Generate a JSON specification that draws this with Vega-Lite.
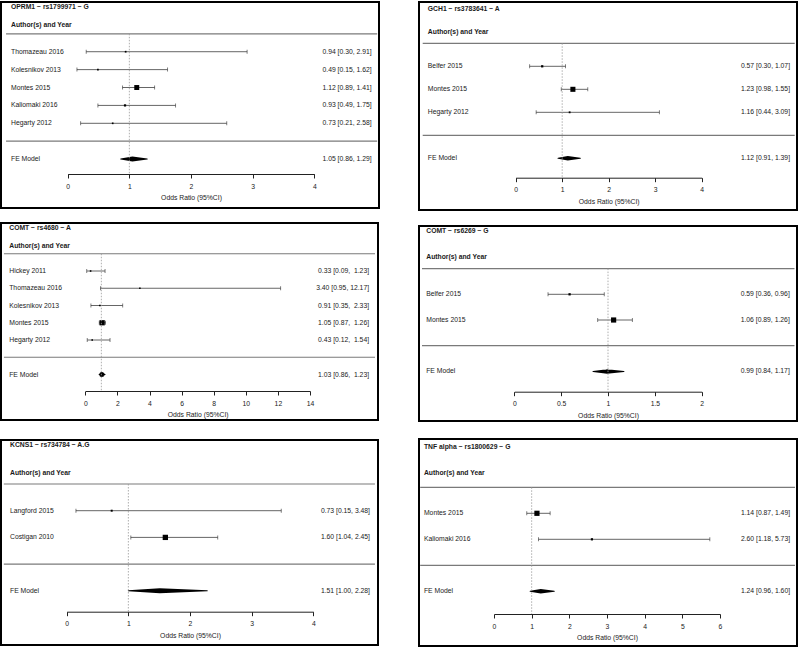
{
  "$schema": "https://vega.github.io/schema/vega-lite/v6.json",
  "background": "white",
  "padding": {"left": 0, "top": 1, "right": 0, "bottom": 0},
  "datasets": {
    "p1": [
      {"study": "Thomazeau 2016", "pos": 1, "kind": "study", "est": 0.94, "lo": 0.30, "hi": 2.91, "ci": "0.94 [0.30, 2.91]", "weight": 3.3},
      {"study": "Kolesnikov 2013", "pos": 2, "kind": "study", "est": 0.49, "lo": 0.15, "hi": 1.62, "ci": "0.49 [0.15, 1.62]", "weight": 3.0},
      {"study": "Montes 2015", "pos": 3, "kind": "study", "est": 1.12, "lo": 0.89, "hi": 1.41, "ci": "1.12 [0.89, 1.41]", "weight": 80.5},
      {"study": "Kaliomaki 2016", "pos": 4, "kind": "study", "est": 0.93, "lo": 0.49, "hi": 1.75, "ci": "0.93 [0.49, 1.75]", "weight": 10.5},
      {"study": "Hegarty 2012", "pos": 5, "kind": "study", "est": 0.73, "lo": 0.21, "hi": 2.58, "ci": "0.73 [0.21, 2.58]", "weight": 2.7},
      {"study": "FE Model", "pos": 7, "kind": "FE", "est": 1.05, "lo": 0.86, "hi": 1.29, "ci": "1.05 [0.86, 1.29]"}
    ],
    "p2": [
      {"study": "Belfer 2015", "pos": 1, "kind": "study", "est": 0.57, "lo": 0.30, "hi": 1.07, "ci": "0.57 [0.30, 1.07]", "weight": 11.0},
      {"study": "Montes 2015", "pos": 2, "kind": "study", "est": 1.23, "lo": 0.98, "hi": 1.55, "ci": "1.23 [0.98, 1.55]", "weight": 84.3},
      {"study": "Hegarty 2012", "pos": 3, "kind": "study", "est": 1.16, "lo": 0.44, "hi": 3.09, "ci": "1.16 [0.44, 3.09]", "weight": 4.7},
      {"study": "FE Model", "pos": 5, "kind": "FE", "est": 1.12, "lo": 0.91, "hi": 1.39, "ci": "1.12 [0.91, 1.39]"}
    ],
    "p3": [
      {"study": "Hickey 2011", "pos": 1, "kind": "study", "est": 0.33, "lo": 0.09, "hi": 1.23, "ci": "0.33 [0.09,\u00a0 1.23]", "weight": 1.8},
      {"study": "Thomazeau 2016", "pos": 2, "kind": "study", "est": 3.40, "lo": 0.95, "hi": 12.17, "ci": "3.40 [0.95, 12.17]", "weight": 1.9},
      {"study": "Kolesnikov 2013", "pos": 3, "kind": "study", "est": 0.91, "lo": 0.35, "hi": 2.33, "ci": "0.91 [0.35,\u00a0 2.33]", "weight": 3.5},
      {"study": "Montes 2015", "pos": 4, "kind": "study", "est": 1.05, "lo": 0.87, "hi": 1.26, "ci": "1.05 [0.87,\u00a0 1.26]", "weight": 90.9},
      {"study": "Hegarty 2012", "pos": 5, "kind": "study", "est": 0.43, "lo": 0.12, "hi": 1.54, "ci": "0.43 [0.12,\u00a0 1.54]", "weight": 1.9},
      {"study": "FE Model", "pos": 7, "kind": "FE", "est": 1.03, "lo": 0.86, "hi": 1.23, "ci": "1.03 [0.86,\u00a0 1.23]"}
    ],
    "p4": [
      {"study": "Belfer 2015", "pos": 1, "kind": "study", "est": 0.59, "lo": 0.36, "hi": 0.96, "ci": "0.59 [0.36, 0.96]", "weight": 11.2},
      {"study": "Montes 2015", "pos": 2, "kind": "study", "est": 1.06, "lo": 0.89, "hi": 1.26, "ci": "1.06 [0.89, 1.26]", "weight": 88.8},
      {"study": "FE Model", "pos": 4, "kind": "FE", "est": 0.99, "lo": 0.84, "hi": 1.17, "ci": "0.99 [0.84, 1.17]"}
    ],
    "p5": [
      {"study": "Langford 2015", "pos": 1, "kind": "study", "est": 0.73, "lo": 0.15, "hi": 3.48, "ci": "0.73 [0.15, 3.48]", "weight": 6.9},
      {"study": "Costigan 2010", "pos": 2, "kind": "study", "est": 1.60, "lo": 1.04, "hi": 2.45, "ci": "1.60 [1.04, 2.45]", "weight": 93.1},
      {"study": "FE Model", "pos": 4, "kind": "FE", "est": 1.51, "lo": 1.00, "hi": 2.28, "ci": "1.51 [1.00, 2.28]"}
    ],
    "p6": [
      {"study": "Montes 2015", "pos": 1, "kind": "study", "est": 1.14, "lo": 0.87, "hi": 1.49, "ci": "1.14 [0.87, 1.49]", "weight": 89.6},
      {"study": "Kaliomaki 2016", "pos": 2, "kind": "study", "est": 2.60, "lo": 1.18, "hi": 5.73, "ci": "2.60 [1.18, 5.73]", "weight": 10.4},
      {"study": "FE Model", "pos": 4, "kind": "FE", "est": 1.24, "lo": 0.96, "hi": 1.60, "ci": "1.24 [0.96, 1.60]"}
    ]
  },
  "config": {
    "view": {"stroke": "black", "strokeWidth": 2},
    "axis": {"grid": false, "labelFont": "Liberation Sans", "titleFont": "Liberation Sans", "labelFontSize": 6.8, "titleFontSize": 6.8, "titleFontWeight": "normal", "labelColor": "#1a1a1a", "titleColor": "#1a1a1a", "domainColor": "#222", "tickColor": "#222", "tickSize": 4, "labelPadding": 5, "titlePadding": 5, "domainWidth": 1, "tickWidth": 1, "labelFlush": false, "labelOverlap": false},
    "axisY": {"disable": true},
    "text": {"font": "Liberation Sans", "fontSize": 6.8, "color": "#1a1a1a", "baseline": "middle"}
  },
  "resolve": {"scale": {"size": "independent"}},
  "spacing": 38,
  "hconcat": [
    {
      "spacing": 13,
      "vconcat": [
        {
          "width": 378, "height": 206,
          "data": {"name": "p1"},
          "resolve": {"scale": {"size": "independent"}},
          "layer": [
            {"transform": [{"filter": {"field": "kind", "equal": "study"}}],
             "mark": {"type": "rule", "color": "#555", "strokeWidth": 0.9},
             "encoding": {
               "x": {"field": "lo", "type": "quantitative", "scale": {"domain": [0, 4], "range": [66.7, 313.3], "nice": false, "zero": false}, "axis": {"offset": -34, "values": [0, 1, 2, 3, 4], "format": "~g", "title": "Odds Ratio (95%CI)"}},
               "x2": {"field": "hi"},
               "y": {"field": "pos", "type": "quantitative", "scale": {"domain": [-1.777, 9.731], "reverse": true, "nice": false, "zero": false}}}},
            {"transform": [{"filter": {"field": "kind", "equal": "study"}}],
             "mark": {"type": "tick", "orient": "vertical", "size": 4, "thickness": 0.9, "color": "#333"},
             "encoding": {"x": {"field": "lo", "type": "quantitative"}, "y": {"field": "pos", "type": "quantitative"}}},
            {"transform": [{"filter": {"field": "kind", "equal": "study"}}],
             "mark": {"type": "tick", "orient": "vertical", "size": 4, "thickness": 0.9, "color": "#333"},
             "encoding": {"x": {"field": "hi", "type": "quantitative"}, "y": {"field": "pos", "type": "quantitative"}}},
            {"transform": [{"filter": {"field": "kind", "equal": "study"}}],
             "mark": {"type": "point", "shape": "square", "filled": true, "color": "black", "opacity": 1},
             "encoding": {"x": {"field": "est", "type": "quantitative"}, "y": {"field": "pos", "type": "quantitative"}, "size": {"field": "weight", "type": "quantitative", "scale": {"domain": [0, 100], "range": [2, 30]}, "legend": null}}},
            {"transform": [{"filter": {"field": "kind", "equal": "FE"}}, {"fold": ["lo", "est", "hi"], "as": ["vertex", "value"]}],
             "mark": {"type": "trail", "color": "black"},
             "encoding": {"x": {"field": "value", "type": "quantitative"}, "y": {"field": "pos", "type": "quantitative"}, "size": {"field": "vertex", "type": "nominal", "scale": {"type": "ordinal", "domain": ["lo", "est", "hi"], "range": [0, 5, 0]}, "legend": null}, "order": {"field": "value", "type": "quantitative"}}},
            {"mark": {"type": "text", "align": "left"}, "encoding": {"x": {"datum": -0.92}, "y": {"field": "pos", "type": "quantitative"}, "text": {"field": "study"}}},
            {"mark": {"type": "text", "align": "right"}, "encoding": {"x": {"datum": 4.93}, "y": {"field": "pos", "type": "quantitative"}, "text": {"field": "ci"}}},
            {"data": {"values": [{}]}, "mark": {"type": "text", "align": "left", "fontWeight": "bold", "text": "OPRM1 − rs1799971 − G"}, "encoding": {"x": {"datum": -0.92}, "y": {"datum": -1.5}}},
            {"data": {"values": [{}]}, "mark": {"type": "text", "align": "left", "fontWeight": "bold", "text": "Author(s) and Year"}, "encoding": {"x": {"datum": -0.92}, "y": {"datum": -0.49}}},
            {"data": {"values": [{}]}, "mark": {"type": "rule", "color": "#7a7a7a", "strokeWidth": 1.2}, "encoding": {"x": {"datum": -1.0}, "x2": {"datum": 5.02}, "y": {"datum": 0}}},
            {"data": {"values": [{}]}, "mark": {"type": "rule", "color": "#7a7a7a", "strokeWidth": 1.2}, "encoding": {"x": {"datum": -1.0}, "x2": {"datum": 5.02}, "y": {"datum": 6}}},
            {"data": {"values": [{}]}, "mark": {"type": "rule", "color": "#999", "strokeWidth": 0.8, "strokeDash": [1.5, 1.5]}, "encoding": {"x": {"datum": 1}, "y": {"datum": 0}, "y2": {"datum": 7.83}}}
          ]
        },
        {
          "spacing": 18,
          "vconcat": [
            {
              "width": 377, "height": 197,
              "data": {"name": "p3"},
              "resolve": {"scale": {"size": "independent"}},
              "layer": [
                {"transform": [{"filter": {"field": "kind", "equal": "study"}}],
                 "mark": {"type": "rule", "color": "#555", "strokeWidth": 0.9},
                 "encoding": {
                   "x": {"field": "lo", "type": "quantitative", "scale": {"domain": [0, 14], "range": [84.3, 309], "nice": false, "zero": false}, "axis": {"offset": -29, "values": [0, 2, 4, 6, 8, 10, 12, 14], "format": "~g", "title": "Odds Ratio (95%CI)"}},
                   "x2": {"field": "hi"},
                   "y": {"field": "pos", "type": "quantitative", "scale": {"domain": [-1.783, 9.637], "reverse": true, "nice": false, "zero": false}}}},
                {"transform": [{"filter": {"field": "kind", "equal": "study"}}],
                 "mark": {"type": "tick", "orient": "vertical", "size": 4, "thickness": 0.9, "color": "#333"},
                 "encoding": {"x": {"field": "lo", "type": "quantitative"}, "y": {"field": "pos", "type": "quantitative"}}},
                {"transform": [{"filter": {"field": "kind", "equal": "study"}}],
                 "mark": {"type": "tick", "orient": "vertical", "size": 4, "thickness": 0.9, "color": "#333"},
                 "encoding": {"x": {"field": "hi", "type": "quantitative"}, "y": {"field": "pos", "type": "quantitative"}}},
                {"transform": [{"filter": {"field": "kind", "equal": "study"}}],
                 "mark": {"type": "point", "shape": "square", "filled": true, "color": "black", "opacity": 1},
                 "encoding": {"x": {"field": "est", "type": "quantitative"}, "y": {"field": "pos", "type": "quantitative"}, "size": {"field": "weight", "type": "quantitative", "scale": {"domain": [0, 100], "range": [2, 30]}, "legend": null}}},
                {"transform": [{"filter": {"field": "kind", "equal": "FE"}}, {"fold": ["lo", "est", "hi"], "as": ["vertex", "value"]}],
                 "mark": {"type": "trail", "color": "black"},
                 "encoding": {"x": {"field": "value", "type": "quantitative"}, "y": {"field": "pos", "type": "quantitative"}, "size": {"field": "vertex", "type": "nominal", "scale": {"type": "ordinal", "domain": ["lo", "est", "hi"], "range": [0, 5, 0]}, "legend": null}, "order": {"field": "value", "type": "quantitative"}}},
                {"mark": {"type": "text", "align": "left"}, "encoding": {"x": {"datum": -4.74}, "y": {"field": "pos", "type": "quantitative"}, "text": {"field": "study"}}},
                {"mark": {"type": "text", "align": "right"}, "encoding": {"x": {"datum": 17.68}, "y": {"field": "pos", "type": "quantitative"}, "text": {"field": "ci"}}},
                {"data": {"values": [{}]}, "mark": {"type": "text", "align": "left", "fontWeight": "bold", "text": "COMT − rs4680 − A"}, "encoding": {"x": {"datum": -4.74}, "y": {"datum": -1.48}}},
                {"data": {"values": [{}]}, "mark": {"type": "text", "align": "left", "fontWeight": "bold", "text": "Author(s) and Year"}, "encoding": {"x": {"datum": -4.74}, "y": {"datum": -0.47}}},
                {"data": {"values": [{}]}, "mark": {"type": "rule", "color": "#7a7a7a", "strokeWidth": 1.2}, "encoding": {"x": {"datum": -5.07}, "x2": {"datum": 18.05}, "y": {"datum": 0}}},
                {"data": {"values": [{}]}, "mark": {"type": "rule", "color": "#7a7a7a", "strokeWidth": 1.2}, "encoding": {"x": {"datum": -5.07}, "x2": {"datum": 18.05}, "y": {"datum": 6}}},
                {"data": {"values": [{}]}, "mark": {"type": "rule", "color": "#999", "strokeWidth": 0.8, "strokeDash": [1.5, 1.5]}, "encoding": {"x": {"datum": 1}, "y": {"datum": 0}, "y2": {"datum": 7.96}}}
              ]
            },
            {
              "width": 377, "height": 205,
              "data": {"name": "p5"},
              "resolve": {"scale": {"size": "independent"}},
              "layer": [
                {"transform": [{"filter": {"field": "kind", "equal": "study"}}],
                 "mark": {"type": "rule", "color": "#555", "strokeWidth": 0.9},
                 "encoding": {
                   "x": {"field": "lo", "type": "quantitative", "scale": {"domain": [0, 4], "range": [65.7, 312.3], "nice": false, "zero": false}, "axis": {"offset": -33.3, "values": [0, 1, 2, 3, 4], "format": "~g", "title": "Odds Ratio (95%CI)"}},
                   "x2": {"field": "hi"},
                   "y": {"field": "pos", "type": "quantitative", "scale": {"domain": [-1.648, 6.03], "reverse": true, "nice": false, "zero": false}}}},
                {"transform": [{"filter": {"field": "kind", "equal": "study"}}],
                 "mark": {"type": "tick", "orient": "vertical", "size": 4, "thickness": 0.9, "color": "#333"},
                 "encoding": {"x": {"field": "lo", "type": "quantitative"}, "y": {"field": "pos", "type": "quantitative"}}},
                {"transform": [{"filter": {"field": "kind", "equal": "study"}}],
                 "mark": {"type": "tick", "orient": "vertical", "size": 4, "thickness": 0.9, "color": "#333"},
                 "encoding": {"x": {"field": "hi", "type": "quantitative"}, "y": {"field": "pos", "type": "quantitative"}}},
                {"transform": [{"filter": {"field": "kind", "equal": "study"}}],
                 "mark": {"type": "point", "shape": "square", "filled": true, "color": "black", "opacity": 1},
                 "encoding": {"x": {"field": "est", "type": "quantitative"}, "y": {"field": "pos", "type": "quantitative"}, "size": {"field": "weight", "type": "quantitative", "scale": {"domain": [0, 100], "range": [2, 30]}, "legend": null}}},
                {"transform": [{"filter": {"field": "kind", "equal": "FE"}}, {"fold": ["lo", "est", "hi"], "as": ["vertex", "value"]}],
                 "mark": {"type": "trail", "color": "black"},
                 "encoding": {"x": {"field": "value", "type": "quantitative"}, "y": {"field": "pos", "type": "quantitative"}, "size": {"field": "vertex", "type": "nominal", "scale": {"type": "ordinal", "domain": ["lo", "est", "hi"], "range": [0, 5, 0]}, "legend": null}, "order": {"field": "value", "type": "quantitative"}}},
                {"mark": {"type": "text", "align": "left"}, "encoding": {"x": {"datum": -0.92}, "y": {"field": "pos", "type": "quantitative"}, "text": {"field": "study"}}},
                {"mark": {"type": "text", "align": "right"}, "encoding": {"x": {"datum": 4.92}, "y": {"field": "pos", "type": "quantitative"}, "text": {"field": "ci"}}},
                {"data": {"values": [{}]}, "mark": {"type": "text", "align": "left", "fontWeight": "bold", "text": "KCNS1 − rs734784 − A.G"}, "encoding": {"x": {"datum": -0.92}, "y": {"datum": -1.46}}},
                {"data": {"values": [{}]}, "mark": {"type": "text", "align": "left", "fontWeight": "bold", "text": "Author(s) and Year"}, "encoding": {"x": {"datum": -0.92}, "y": {"datum": -0.4}}},
                {"data": {"values": [{}]}, "mark": {"type": "rule", "color": "#7a7a7a", "strokeWidth": 1.2}, "encoding": {"x": {"datum": -1.02}, "x2": {"datum": 5.0}, "y": {"datum": 0}}},
                {"data": {"values": [{}]}, "mark": {"type": "rule", "color": "#7a7a7a", "strokeWidth": 1.2}, "encoding": {"x": {"datum": -1.02}, "x2": {"datum": 5.0}, "y": {"datum": 3}}},
                {"data": {"values": [{}]}, "mark": {"type": "rule", "color": "#999", "strokeWidth": 0.8, "strokeDash": [1.5, 1.5]}, "encoding": {"x": {"datum": 1}, "y": {"datum": 0}, "y2": {"datum": 4.78}}}
              ]
            }
          ]
        }
      ]
    },
    {
      "spacing": 14,
      "vconcat": [
        {
          "width": 378, "height": 208,
          "data": {"name": "p2"},
          "resolve": {"scale": {"size": "independent"}},
          "layer": [
            {"transform": [{"filter": {"field": "kind", "equal": "study"}}],
             "mark": {"type": "rule", "color": "#555", "strokeWidth": 0.9},
             "encoding": {
               "x": {"field": "lo", "type": "quantitative", "scale": {"domain": [0, 4], "range": [96.7, 282.7], "nice": false, "zero": false}, "axis": {"offset": -32.3, "values": [0, 1, 2, 3, 4], "format": "~g", "title": "Odds Ratio (95%CI)"}},
               "x2": {"field": "hi"},
               "y": {"field": "pos", "type": "quantitative", "scale": {"domain": [-1.796, 7.247], "reverse": true, "nice": false, "zero": false}}}},
            {"transform": [{"filter": {"field": "kind", "equal": "study"}}],
             "mark": {"type": "tick", "orient": "vertical", "size": 4, "thickness": 0.9, "color": "#333"},
             "encoding": {"x": {"field": "lo", "type": "quantitative"}, "y": {"field": "pos", "type": "quantitative"}}},
            {"transform": [{"filter": {"field": "kind", "equal": "study"}}],
             "mark": {"type": "tick", "orient": "vertical", "size": 4, "thickness": 0.9, "color": "#333"},
             "encoding": {"x": {"field": "hi", "type": "quantitative"}, "y": {"field": "pos", "type": "quantitative"}}},
            {"transform": [{"filter": {"field": "kind", "equal": "study"}}],
             "mark": {"type": "point", "shape": "square", "filled": true, "color": "black", "opacity": 1},
             "encoding": {"x": {"field": "est", "type": "quantitative"}, "y": {"field": "pos", "type": "quantitative"}, "size": {"field": "weight", "type": "quantitative", "scale": {"domain": [0, 100], "range": [2, 30]}, "legend": null}}},
            {"transform": [{"filter": {"field": "kind", "equal": "FE"}}, {"fold": ["lo", "est", "hi"], "as": ["vertex", "value"]}],
             "mark": {"type": "trail", "color": "black"},
             "encoding": {"x": {"field": "value", "type": "quantitative"}, "y": {"field": "pos", "type": "quantitative"}, "size": {"field": "vertex", "type": "nominal", "scale": {"type": "ordinal", "domain": ["lo", "est", "hi"], "range": [0, 4.5, 0]}, "legend": null}, "order": {"field": "value", "type": "quantitative"}}},
            {"mark": {"type": "text", "align": "left"}, "encoding": {"x": {"datum": -1.89}, "y": {"field": "pos", "type": "quantitative"}, "text": {"field": "study"}}},
            {"mark": {"type": "text", "align": "right"}, "encoding": {"x": {"datum": 5.9}, "y": {"field": "pos", "type": "quantitative"}, "text": {"field": "ci"}}},
            {"data": {"values": [{}]}, "mark": {"type": "text", "align": "left", "fontWeight": "bold", "text": "GCH1 − rs3783641 − A"}, "encoding": {"x": {"datum": -1.89}, "y": {"datum": -1.49}}},
            {"data": {"values": [{}]}, "mark": {"type": "text", "align": "left", "fontWeight": "bold", "text": "Author(s) and Year"}, "encoding": {"x": {"datum": -1.89}, "y": {"datum": -0.47}}},
            {"data": {"values": [{}]}, "mark": {"type": "rule", "color": "#7a7a7a", "strokeWidth": 1.2}, "encoding": {"x": {"datum": -2.0}, "x2": {"datum": 6.0}, "y": {"datum": 0}}},
            {"data": {"values": [{}]}, "mark": {"type": "rule", "color": "#7a7a7a", "strokeWidth": 1.2}, "encoding": {"x": {"datum": -2.0}, "x2": {"datum": 6.0}, "y": {"datum": 4}}},
            {"data": {"values": [{}]}, "mark": {"type": "rule", "color": "#999", "strokeWidth": 0.8, "strokeDash": [1.5, 1.5]}, "encoding": {"x": {"datum": 1}, "y": {"datum": 0}, "y2": {"datum": 5.84}}}
          ]
        },
        {
          "spacing": 16,
          "vconcat": [
            {
              "width": 378, "height": 195,
              "data": {"name": "p4"},
              "resolve": {"scale": {"size": "independent"}},
              "layer": [
                {"transform": [{"filter": {"field": "kind", "equal": "study"}}],
                 "mark": {"type": "rule", "color": "#555", "strokeWidth": 0.9},
                 "encoding": {
                   "x": {"field": "lo", "type": "quantitative", "scale": {"domain": [0, 2], "range": [95.3, 282.7], "nice": false, "zero": false}, "axis": {"offset": -29.3, "values": [0, 0.5, 1, 1.5, 2], "format": "~g", "title": "Odds Ratio (95%CI)"}},
                   "x2": {"field": "hi"},
                   "y": {"field": "pos", "type": "quantitative", "scale": {"domain": [-1.658, 5.93], "reverse": true, "nice": false, "zero": false}}}},
                {"transform": [{"filter": {"field": "kind", "equal": "study"}}],
                 "mark": {"type": "tick", "orient": "vertical", "size": 4, "thickness": 0.9, "color": "#333"},
                 "encoding": {"x": {"field": "lo", "type": "quantitative"}, "y": {"field": "pos", "type": "quantitative"}}},
                {"transform": [{"filter": {"field": "kind", "equal": "study"}}],
                 "mark": {"type": "tick", "orient": "vertical", "size": 4, "thickness": 0.9, "color": "#333"},
                 "encoding": {"x": {"field": "hi", "type": "quantitative"}, "y": {"field": "pos", "type": "quantitative"}}},
                {"transform": [{"filter": {"field": "kind", "equal": "study"}}],
                 "mark": {"type": "point", "shape": "square", "filled": true, "color": "black", "opacity": 1},
                 "encoding": {"x": {"field": "est", "type": "quantitative"}, "y": {"field": "pos", "type": "quantitative"}, "size": {"field": "weight", "type": "quantitative", "scale": {"domain": [0, 100], "range": [2, 30]}, "legend": null}}},
                {"transform": [{"filter": {"field": "kind", "equal": "FE"}}, {"fold": ["lo", "est", "hi"], "as": ["vertex", "value"]}],
                 "mark": {"type": "trail", "color": "black"},
                 "encoding": {"x": {"field": "value", "type": "quantitative"}, "y": {"field": "pos", "type": "quantitative"}, "size": {"field": "vertex", "type": "nominal", "scale": {"type": "ordinal", "domain": ["lo", "est", "hi"], "range": [0, 4.5, 0]}, "legend": null}, "order": {"field": "value", "type": "quantitative"}}},
                {"mark": {"type": "text", "align": "left"}, "encoding": {"x": {"datum": -0.94}, "y": {"field": "pos", "type": "quantitative"}, "text": {"field": "study"}}},
                {"mark": {"type": "text", "align": "right"}, "encoding": {"x": {"datum": 2.94}, "y": {"field": "pos", "type": "quantitative"}, "text": {"field": "ci"}}},
                {"data": {"values": [{}]}, "mark": {"type": "text", "align": "left", "fontWeight": "bold", "text": "COMT − rs6269 − G"}, "encoding": {"x": {"datum": -0.94}, "y": {"datum": -1.47}}},
                {"data": {"values": [{}]}, "mark": {"type": "text", "align": "left", "fontWeight": "bold", "text": "Author(s) and Year"}, "encoding": {"x": {"datum": -0.94}, "y": {"datum": -0.44}}},
                {"data": {"values": [{}]}, "mark": {"type": "rule", "color": "#7a7a7a", "strokeWidth": 1.2}, "encoding": {"x": {"datum": -0.985}, "x2": {"datum": 2.99}, "y": {"datum": 0}}},
                {"data": {"values": [{}]}, "mark": {"type": "rule", "color": "#7a7a7a", "strokeWidth": 1.2}, "encoding": {"x": {"datum": -0.985}, "x2": {"datum": 2.99}, "y": {"datum": 3}}},
                {"data": {"values": [{}]}, "mark": {"type": "rule", "color": "#999", "strokeWidth": 0.8, "strokeDash": [1.5, 1.5]}, "encoding": {"x": {"datum": 1}, "y": {"datum": 0}, "y2": {"datum": 4.79}}}
              ]
            },
            {
              "width": 378, "height": 207,
              "data": {"name": "p6"},
              "resolve": {"scale": {"size": "independent"}},
              "layer": [
                {"transform": [{"filter": {"field": "kind", "equal": "study"}}],
                 "mark": {"type": "rule", "color": "#555", "strokeWidth": 0.9},
                 "encoding": {
                   "x": {"field": "lo", "type": "quantitative", "scale": {"domain": [0, 6], "range": [75, 301], "nice": false, "zero": false}, "axis": {"offset": -32, "values": [0, 1, 2, 3, 4, 5, 6], "format": "~g", "title": "Odds Ratio (95%CI)"}},
                   "x2": {"field": "hi"},
                   "y": {"field": "pos", "type": "quantitative", "scale": {"domain": [-1.858, 6.104], "reverse": true, "nice": false, "zero": false}}}},
                {"transform": [{"filter": {"field": "kind", "equal": "study"}}],
                 "mark": {"type": "tick", "orient": "vertical", "size": 4, "thickness": 0.9, "color": "#333"},
                 "encoding": {"x": {"field": "lo", "type": "quantitative"}, "y": {"field": "pos", "type": "quantitative"}}},
                {"transform": [{"filter": {"field": "kind", "equal": "study"}}],
                 "mark": {"type": "tick", "orient": "vertical", "size": 4, "thickness": 0.9, "color": "#333"},
                 "encoding": {"x": {"field": "hi", "type": "quantitative"}, "y": {"field": "pos", "type": "quantitative"}}},
                {"transform": [{"filter": {"field": "kind", "equal": "study"}}],
                 "mark": {"type": "point", "shape": "square", "filled": true, "color": "black", "opacity": 1},
                 "encoding": {"x": {"field": "est", "type": "quantitative"}, "y": {"field": "pos", "type": "quantitative"}, "size": {"field": "weight", "type": "quantitative", "scale": {"domain": [0, 100], "range": [2, 30]}, "legend": null}}},
                {"transform": [{"filter": {"field": "kind", "equal": "FE"}}, {"fold": ["lo", "est", "hi"], "as": ["vertex", "value"]}],
                 "mark": {"type": "trail", "color": "black"},
                 "encoding": {"x": {"field": "value", "type": "quantitative"}, "y": {"field": "pos", "type": "quantitative"}, "size": {"field": "vertex", "type": "nominal", "scale": {"type": "ordinal", "domain": ["lo", "est", "hi"], "range": [0, 4.5, 0]}, "legend": null}, "order": {"field": "value", "type": "quantitative"}}},
                {"mark": {"type": "text", "align": "left"}, "encoding": {"x": {"datum": -1.86}, "y": {"field": "pos", "type": "quantitative"}, "text": {"field": "study"}}},
                {"mark": {"type": "text", "align": "right"}, "encoding": {"x": {"datum": 7.86}, "y": {"field": "pos", "type": "quantitative"}, "text": {"field": "ci"}}},
                {"data": {"values": [{}]}, "mark": {"type": "text", "align": "left", "fontWeight": "bold", "text": "TNF alpha − rs1800629 − G"}, "encoding": {"x": {"datum": -1.86}, "y": {"datum": -1.56}}},
                {"data": {"values": [{}]}, "mark": {"type": "text", "align": "left", "fontWeight": "bold", "text": "Author(s) and Year"}, "encoding": {"x": {"datum": -1.86}, "y": {"datum": -0.54}}},
                {"data": {"values": [{}]}, "mark": {"type": "rule", "color": "#7a7a7a", "strokeWidth": 1.2}, "encoding": {"x": {"datum": -1.96}, "x2": {"datum": 7.99}, "y": {"datum": 0}}},
                {"data": {"values": [{}]}, "mark": {"type": "rule", "color": "#7a7a7a", "strokeWidth": 1.2}, "encoding": {"x": {"datum": -1.96}, "x2": {"datum": 7.99}, "y": {"datum": 3}}},
                {"data": {"values": [{}]}, "mark": {"type": "rule", "color": "#999", "strokeWidth": 0.8, "strokeDash": [1.5, 1.5]}, "encoding": {"x": {"datum": 1}, "y": {"datum": 0}, "y2": {"datum": 4.87}}}
              ]
            }
          ]
        }
      ]
    }
  ]
}
